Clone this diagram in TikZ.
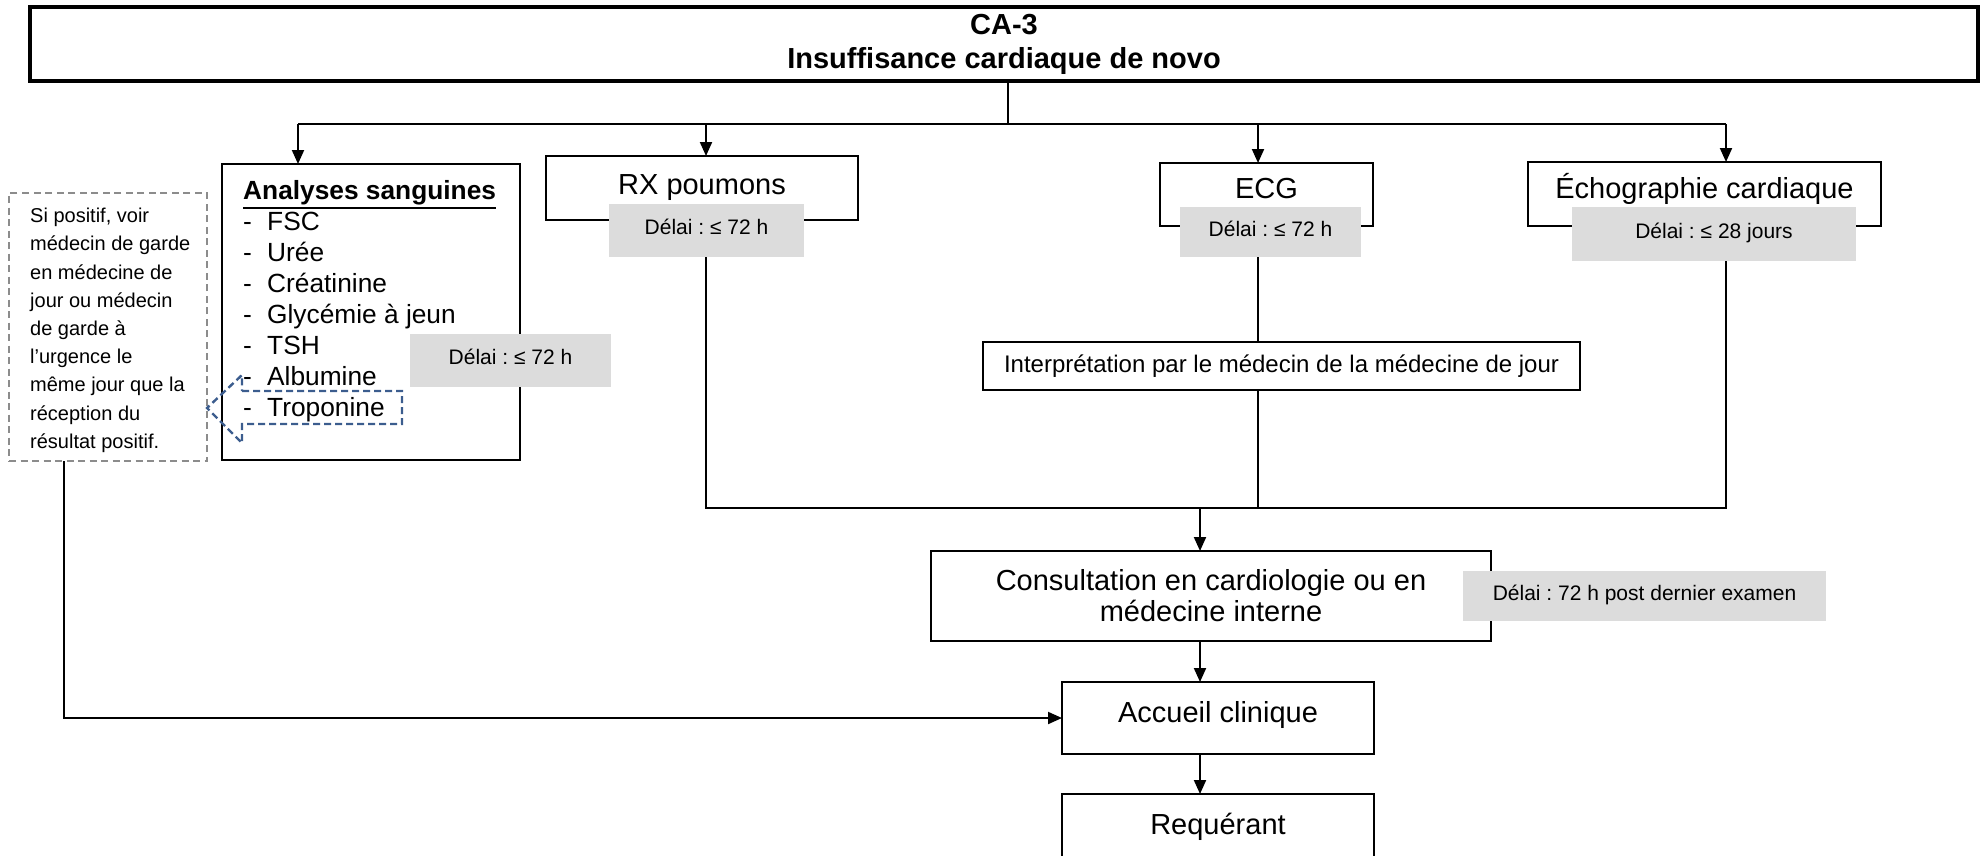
\documentclass[tikz,border=0pt]{standalone}
\usepackage{fontspec}
\setmainfont{Liberation Sans}
\usetikzlibrary{arrows.meta}
\definecolor{delaigray}{RGB}{220,220,220}
\definecolor{notegray}{RGB}{140,140,140}
\definecolor{calloutblue}{RGB}{60,93,142}
% heading underlined with a thicker rule
\newcommand\thickul[1]{\leavevmode\vtop{\hbox{#1}\kern2.5pt\hrule height 2pt}}
\frenchspacing
\begin{document}
\begin{tikzpicture}[x=1pt,y=-1pt]
\tikzset{
  box/.style={draw, line width=2pt, inner sep=0pt, outer sep=0pt, align=center,
              font=\fontsize{29}{34}\selectfont},
  raised/.style={text height=21pt, text depth=13pt},
  delai/.style={fill=delaigray, inner sep=0pt, outer sep=0pt,
                text height=15pt, text depth=7pt,
                font=\fontsize{21}{25}\selectfont},
  link/.style={line width=2pt},
  arr/.style={line width=2pt, -{Triangle[length=14pt,width=12pt]}},
  notebox/.style={draw=notegray, line width=2pt, dash pattern=on 7pt off 4.5pt,
                  inner sep=0pt, outer sep=0pt},
  callout/.style={draw=calloutblue, line width=2.4pt, dash pattern=on 7pt off 4pt}
}
\useasboundingbox (0,0) rectangle (1988,856);
\clip (0,0) rectangle (1988,856);

% header
\node[box, line width=4pt, minimum width=1948pt, minimum height=74pt,
      font=\bfseries\fontsize{29}{34}\selectfont] (title) at (1004,44)
      {CA-3\\Insuffisance cardiaque de novo};

% examinations
\node[box, minimum width=298pt, minimum height=296pt] (sang) at (371,312) {};
\node[anchor=north west, inner sep=0pt, align=left,
      font=\fontsize{26.3}{31.1}\selectfont] (sangtxt) at (243,180)
  {\thickul{\textbf{Analyses sanguines}}\\
   \makebox[24pt][l]{-}FSC\\
   \makebox[24pt][l]{-}Urée\\
   \makebox[24pt][l]{-}Créatinine\\
   \makebox[24pt][l]{-}Glycémie à jeun\\
   \makebox[24pt][l]{-}TSH\\
   \makebox[24pt][l]{-}Albumine\\
   \makebox[24pt][l]{-}Troponine};
\node[box, minimum width=312pt, minimum height=64pt] (rx) at (702,188) {RX poumons};
\node[box, raised, minimum width=213pt, minimum height=63pt] (ecg) at (1266.5,194.5) {ECG};
\node[box, raised, minimum width=353pt, minimum height=64pt] (echo) at (1704.5,194) {Échographie cardiaque};
\node[box, minimum width=597pt, minimum height=48pt,
      font=\fontsize{24}{28}\selectfont] (interp) at (1281.5,366)
      {Interprétation par le médecin de la médecine de jour};

% follow-up
\node[box, minimum width=560pt, minimum height=90pt,
      font=\fontsize{29}{31}\selectfont] (consult) at (1211,596)
      {Consultation en cardiologie ou en\\médecine interne};
\node[box, raised, minimum width=312pt, minimum height=72pt] (accueil) at (1218,718) {Accueil clinique};
\node[box, raised, minimum width=312pt, minimum height=72pt] (req) at (1218,830) {Requérant};

% side note
\node[notebox, minimum width=198pt, minimum height=268pt] (note) at (108,327) {};
\node[anchor=north west, inner sep=0pt, align=left,
      font=\fontsize{20}{28.2}\selectfont] (notetxt) at (30,208)
  {Si positif, voir\\médecin de garde\\en médecine de\\jour ou médecin\\de garde à\\l’urgence le\\même jour que la\\réception du\\résultat positif.};

% connectors
\coordinate (bus) at (1008,124);
\coordinate (merge) at (1200,508);
\coordinate (sangin) at ([xshift=-73pt]sang.north);
\coordinate (rxin) at ([xshift=4pt]rx.north);
\coordinate (ecgin) at ([xshift=-8.5pt]ecg.north);
\coordinate (echoin) at ([xshift=21.5pt]echo.north);

\draw[link] (title.south -| bus) -- (bus);
\draw[link] (sangin |- bus) -- (echoin |- bus);
\draw[arr] (sangin |- bus) -- (sangin);
\draw[arr] (rxin |- bus) -- (rxin);
\draw[arr] (ecgin |- bus) -- (ecgin);
\draw[arr] (echoin |- bus) -- (echoin);

\draw[link] (rxin |- rx.south) -- (rxin |- merge) -- (echoin |- merge) -- (echoin |- echo.south);
\draw[link] (ecgin |- ecg.south) -- (ecgin |- interp.north);
\draw[link] (ecgin |- interp.south) -- (ecgin |- merge);
\draw[arr] (merge) -- (merge |- consult.north);
\draw[arr] (merge |- consult.south) -- (merge |- accueil.north);
\draw[arr] (merge |- accueil.south) -- (merge |- req.north);
\draw[arr] ([xshift=-44pt]note.south) |- (accueil.west);

% delays
\node[delai, minimum width=201pt, minimum height=53pt] (dsang) at (510.5,360.5) {Délai : ≤ 72 h};
\node[delai, minimum width=195pt, minimum height=53pt] (drx) at (706.5,230.5) {Délai : ≤ 72 h};
\node[delai, minimum width=181pt, minimum height=50pt] (decg) at (1270.5,232) {Délai : ≤ 72 h};
\node[delai, minimum width=284pt, minimum height=54pt] (decho) at (1714,234) {Délai : ≤ 28 jours};
\node[delai, minimum width=363pt, minimum height=50pt] (dcons) at (1644.5,596) {Délai : 72 h post dernier examen};

% callout around the troponin item
\draw[callout] (242,391) -- (402,391) -- (402,424) -- (242,424) -- (242,443)
               -- (207,408) -- (242,375) -- cycle;
\end{tikzpicture}
\end{document}
